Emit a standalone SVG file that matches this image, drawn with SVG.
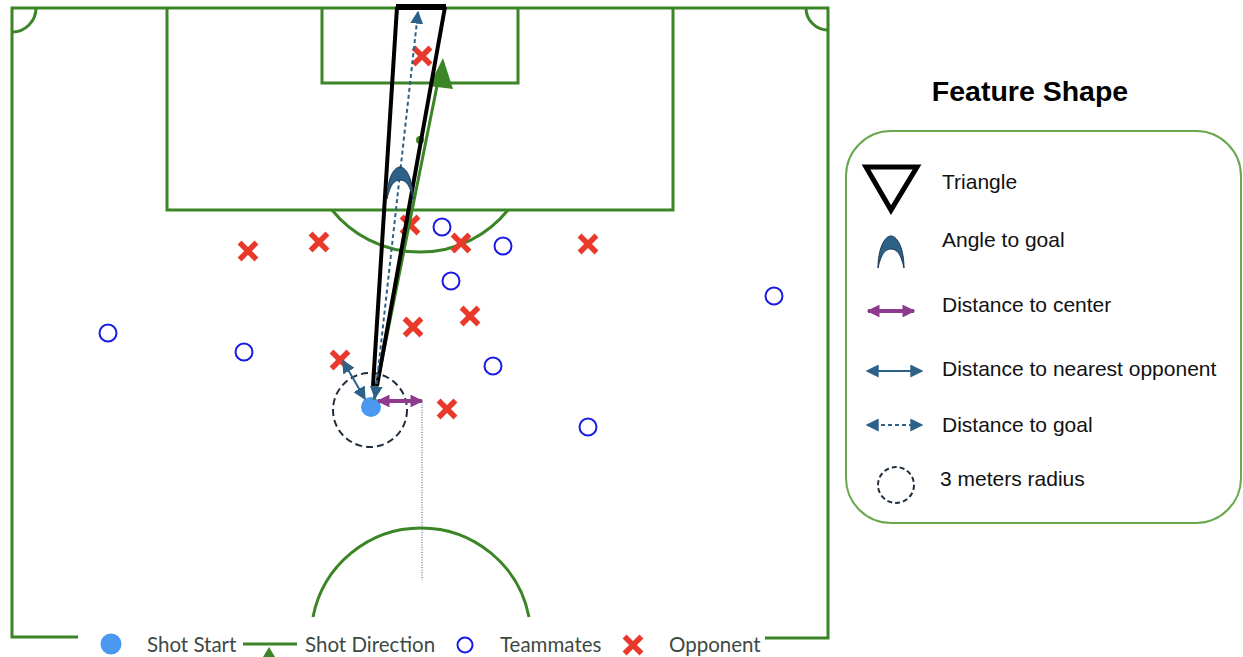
<svg xmlns="http://www.w3.org/2000/svg" width="1243" height="657" viewBox="0 0 1243 657">
<defs>
<style>
.pitch{fill:none;stroke:#3b8526;stroke-width:3}
.opp{stroke:#e8392b;stroke-width:5.5;stroke-linecap:square;fill:none}
.mate{fill:none;stroke:#1a1ae6;stroke-width:2}
.tri{fill:none;stroke:#000;stroke-width:4;stroke-linejoin:miter}
.lbl{font-family:"Liberation Sans",Arial,sans-serif;font-size:21px;fill:#111}
.leg{font-family:Lato,"Noto Sans",sans-serif;font-size:20.5px;fill:#3d4a44}
.blue{stroke:#2e6187;stroke-width:2;fill:none}
.purple{stroke:#8e3a8f;stroke-width:4;fill:none}
</style>
<marker id="ab" viewBox="0 0 10 10" refX="9" refY="5" markerWidth="13" markerHeight="13" orient="auto-start-reverse" markerUnits="userSpaceOnUse"><path d="M0,0 L10,5 L0,10 z" fill="#2e6187"/></marker>
<marker id="ap" viewBox="0 0 10 10" refX="9" refY="5" markerWidth="3.2" markerHeight="3.2" orient="auto-start-reverse" markerUnits="strokeWidth"><path d="M0,0 L10,5 L0,10 z" fill="#8e3a8f"/></marker>
<symbol id="x" viewBox="-10 -10 20 20" overflow="visible"><path class="opp" d="M-6.5,-6.5 L6.5,6.5 M6.5,-6.5 L-6.5,6.5"/></symbol>
<path id="cres" d="M-13,16 C-13,-2 -7,-16 0,-16 C7,-16 13,-2 13,16 C10,2 6,-3 0,-3 C-6,-3 -10,2 -13,16 Z" fill="#2e6187" stroke="#1b3550" stroke-width="1"/>
</defs>
<rect width="1243" height="657" fill="#fff"/>
<g id="pitch">
<path class="pitch" d="M78,637 L12,637 L12,8 L828,8 L828,638 L765,638"/>
<path class="pitch" d="M36,8 A24,24 0 0 1 12,32"/>
<path class="pitch" d="M806,8 A22,22 0 0 0 828,30"/>
<path class="pitch" d="M167,8 L167,210 L673,210 L673,8"/>
<path class="pitch" d="M322,8 L322,83 L518,83 L518,8"/>
<path class="pitch" d="M332,210 A113,113 0 0 0 508,210"/>
<path class="pitch" d="M313,617 A110,110 0 0 1 529,617"/>
<circle cx="420" cy="140" r="4" fill="#3b8526"/>
</g>
<g id="opponents">
<use href="#x" x="412" y="46" width="20" height="20"/>
<use href="#x" x="400" y="215" width="20" height="20"/>
<use href="#x" x="451" y="233" width="20" height="20"/>
<use href="#x" x="238" y="241" width="20" height="20"/>
<use href="#x" x="309" y="232" width="20" height="20"/>
<use href="#x" x="578" y="234" width="20" height="20"/>
<use href="#x" x="403" y="317" width="20" height="20"/>
<use href="#x" x="460" y="306" width="20" height="20"/>
<use href="#x" x="330" y="350" width="20" height="20"/>
<use href="#x" x="437" y="399" width="20" height="20"/>
</g>
<g id="teammates">
<circle class="mate" cx="442" cy="227" r="8.5"/>
<circle class="mate" cx="503" cy="246" r="8.5"/>
<circle class="mate" cx="451" cy="281" r="8.5"/>
<circle class="mate" cx="108" cy="333" r="8.5"/>
<circle class="mate" cx="244" cy="352" r="8.5"/>
<circle class="mate" cx="493" cy="366" r="8.5"/>
<circle class="mate" cx="588" cy="427" r="8.5"/>
<circle class="mate" cx="774" cy="296" r="8.5"/>
</g>
<g id="shot-start">
<circle cx="370" cy="410" r="37" fill="none" stroke="#1f2d3d" stroke-width="2" stroke-dasharray="7,4"/>
<circle cx="371" cy="407" r="10" fill="#4a98f0"/>
</g>
<g id="connectors">
<line x1="422" y1="402" x2="422" y2="580" stroke="#2e6187" stroke-width="1" stroke-dasharray="1,1.5"/>
<line x1="374" y1="400" x2="437" y2="86" stroke="#3b8526" stroke-width="3"/>
<polygon points="443,58 429,86 453,89" fill="#3b8526"/>
<path class="tri" d="M373,386 L397,7 M377,386 L445,7"/>
<line x1="396" y1="7" x2="446" y2="7" stroke="#000" stroke-width="6"/>
<line x1="375" y1="398" x2="418" y2="12" class="blue" stroke-width="1.6" stroke-dasharray="4,3" marker-start="url(#ab)" marker-end="url(#ab)"/>
<line x1="343" y1="361" x2="365" y2="399" class="blue" marker-start="url(#ab)" marker-end="url(#ab)"/>
<line x1="378" y1="401" x2="422" y2="401" class="purple" marker-start="url(#ap)" marker-end="url(#ap)"/>
<use href="#cres" x="400" y="183"/>
</g>
<g id="bottom-legend">
<circle cx="111" cy="644" r="10.5" fill="#4a98f0"/>
<text class="leg" x="147" y="652">Shot Start</text>
<line x1="243" y1="644" x2="297" y2="644" stroke="#3b8526" stroke-width="3"/>
<polygon points="269,647 263,657 275,657" fill="#3b8526"/>
<text class="leg" x="305" y="652">Shot Direction</text>
<circle cx="465" cy="645" r="7.5" fill="none" stroke="#1a1ae6" stroke-width="2"/>
<text class="leg" x="500" y="652">Teammates</text>
<use href="#x" x="623" y="635" width="20" height="20"/>
<text class="leg" x="669" y="652">Opponent</text>
</g>
<g id="feature-legend">
<text x="1030" y="101" text-anchor="middle" font-family="Liberation Sans,Arial,sans-serif" font-weight="bold" font-size="28.5" fill="#000">Feature Shape</text>
<rect x="846" y="131" width="395" height="392" rx="45" fill="none" stroke="#6aa84f" stroke-width="2"/>
<polygon points="866,167 917,167 891,210" fill="none" stroke="#000" stroke-width="5" stroke-linejoin="miter"/>
<text class="lbl" x="942" y="189">Triangle</text>
<use href="#cres" x="891" y="252"/>
<text class="lbl" x="942" y="247">Angle to goal</text>
<line x1="868" y1="311" x2="914" y2="311" class="purple" marker-start="url(#ap)" marker-end="url(#ap)"/>
<text class="lbl" x="942" y="312">Distance to center</text>
<line x1="867" y1="371" x2="922" y2="371" class="blue" marker-start="url(#ab)" marker-end="url(#ab)"/>
<text class="lbl" x="942" y="376">Distance to nearest opponent</text>
<line x1="867" y1="425" x2="922" y2="425" class="blue" stroke-width="1.6" stroke-dasharray="4,3" marker-start="url(#ab)" marker-end="url(#ab)"/>
<text class="lbl" x="942" y="432">Distance to goal</text>
<circle cx="896" cy="485" r="18" fill="none" stroke="#1f2d3d" stroke-width="2" stroke-dasharray="5,3"/>
<text class="lbl" x="940" y="486">3 meters radius</text>
</g>
</svg>
